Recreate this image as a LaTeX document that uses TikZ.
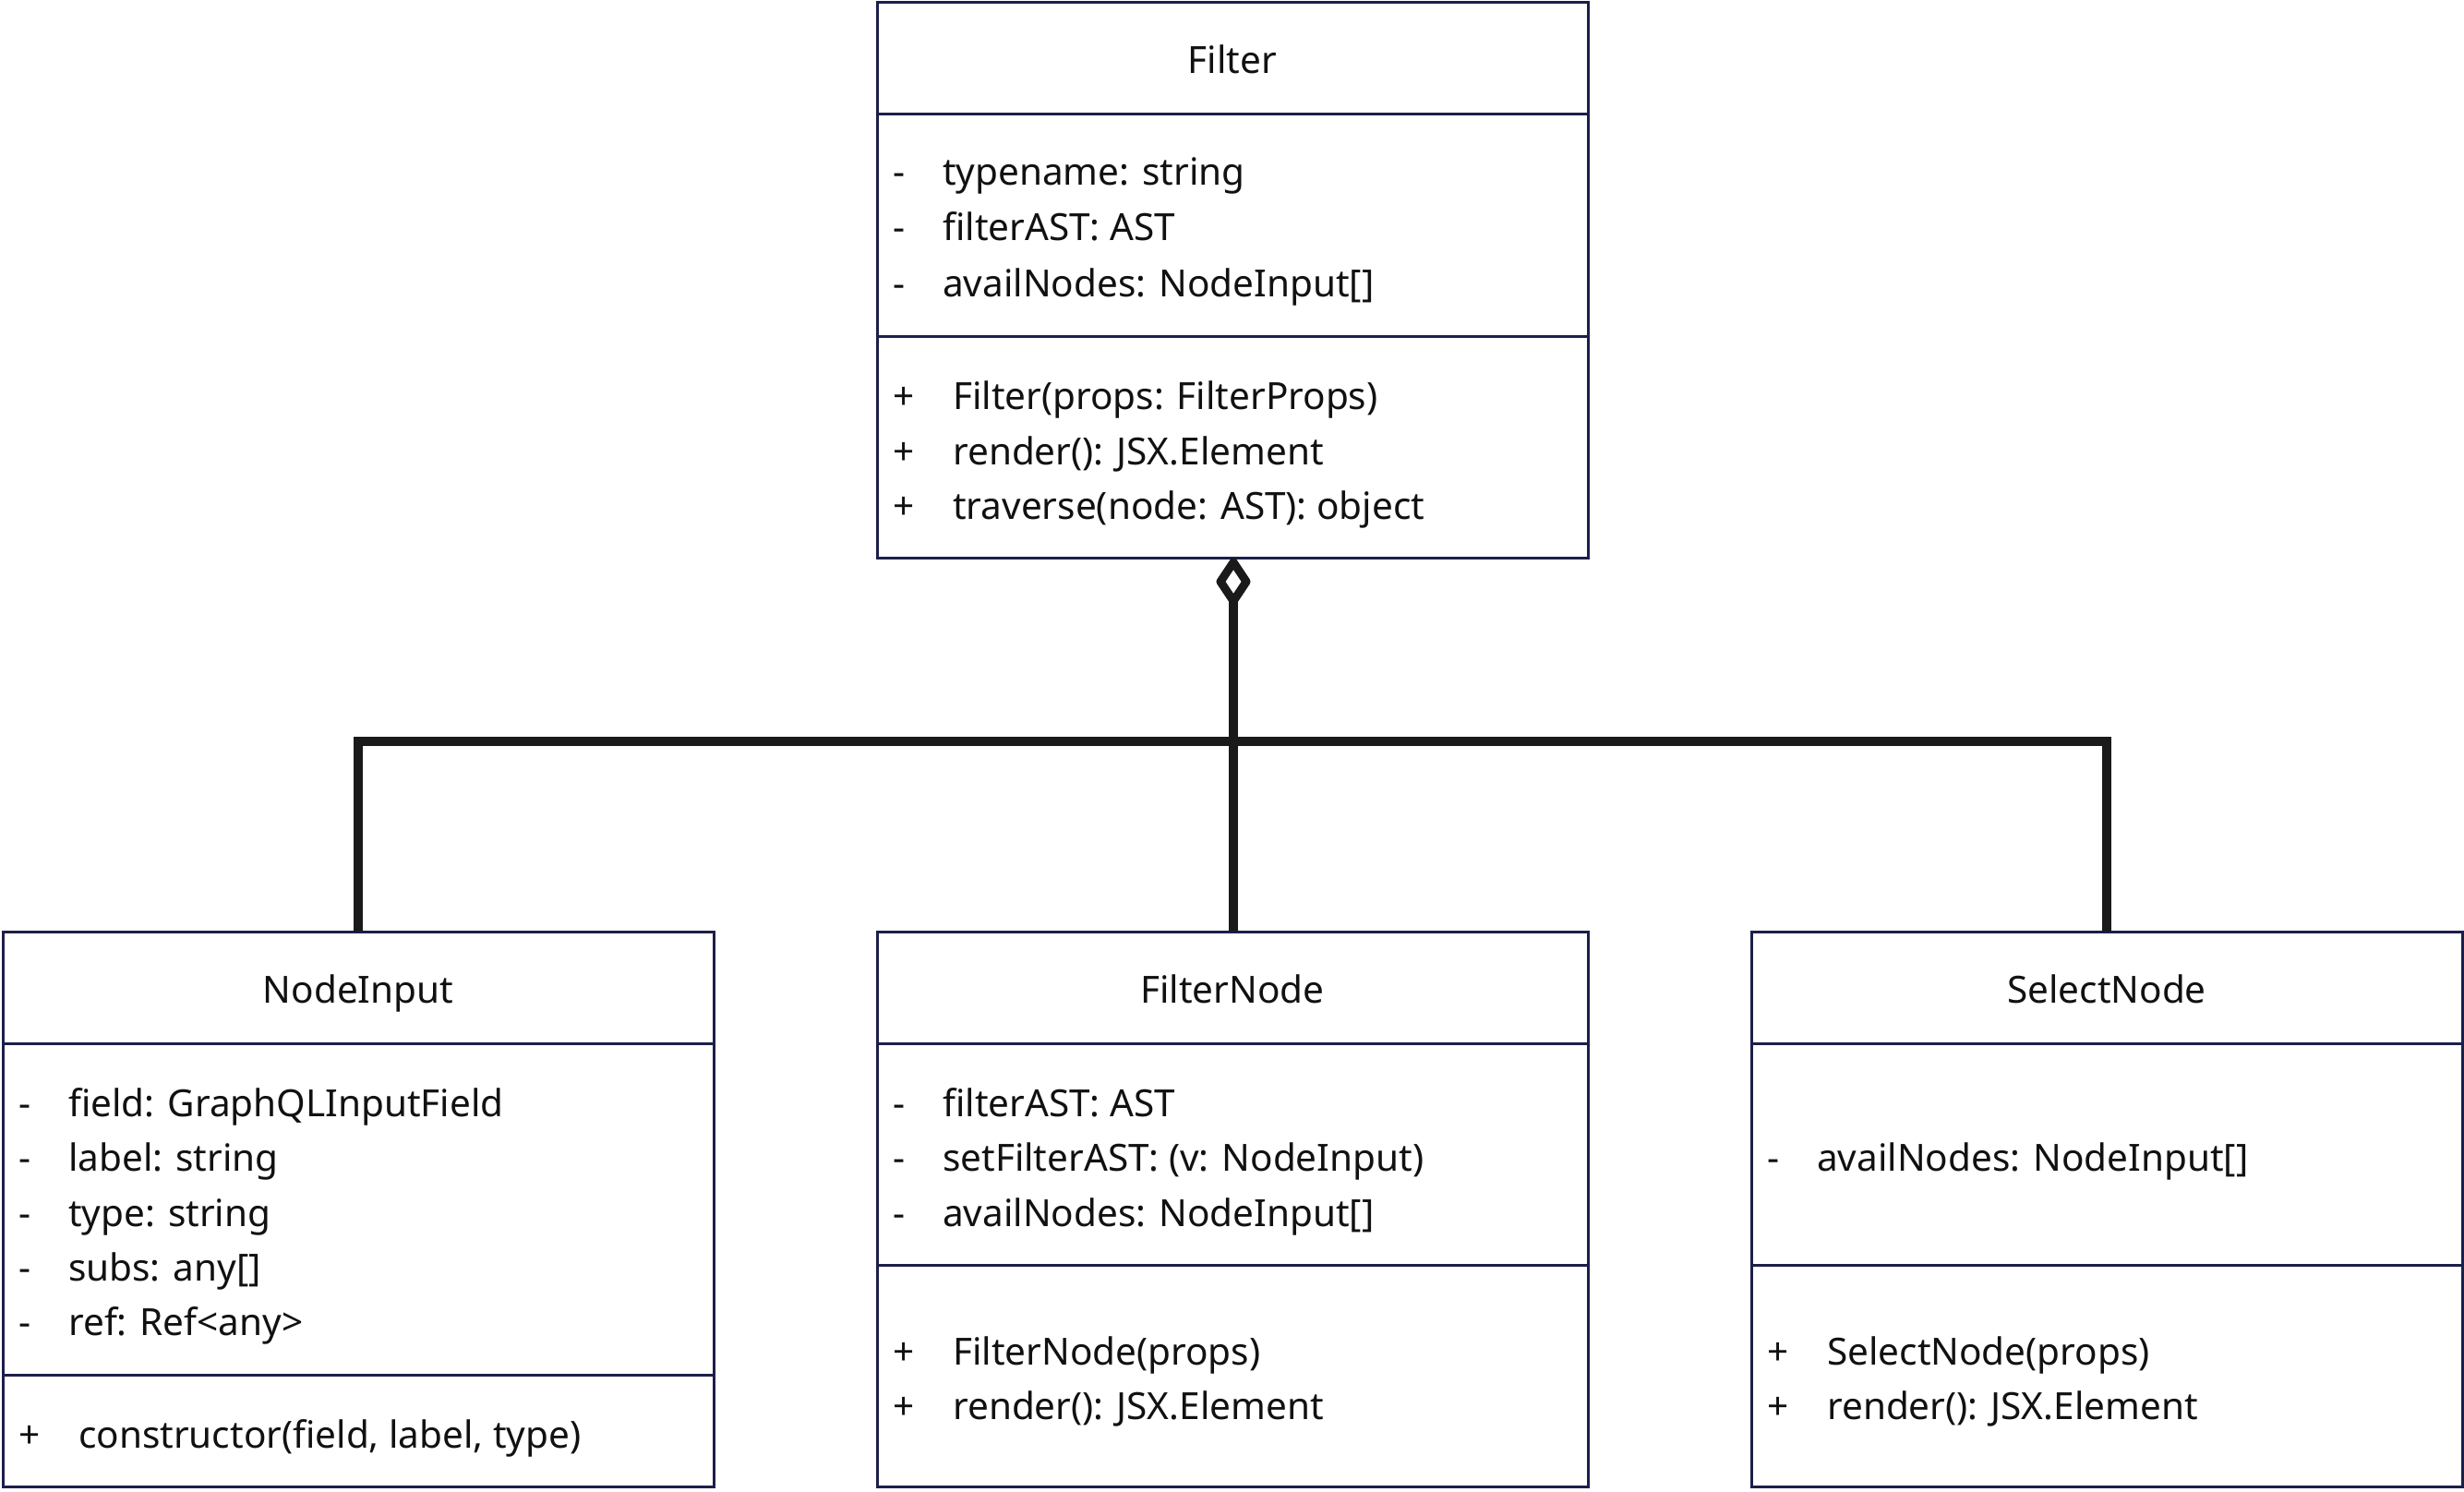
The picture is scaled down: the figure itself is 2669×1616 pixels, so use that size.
\documentclass[tikz,border=0pt]{standalone}
\usepackage{fontspec}
\setmainfont{Noto Sans}
\usetikzlibrary{calc}
\definecolor{boxline}{HTML}{1C1F4A}
\definecolor{connline}{HTML}{1A1A1A}
\definecolor{txtcol}{HTML}{111111}
\begin{document}
\begin{tikzpicture}[x=1pt,y=-1pt,
  classbox/.style={draw=boxline, line width=3pt, minimum width=770pt, minimum height=601pt, anchor=north west, inner sep=0pt, outer sep=0pt},
  divider/.style={draw=boxline, line width=3pt},
  conn/.style={draw=connline, line width=10pt},
  diam/.style={draw=connline, line width=9pt, line join=round},
  lbl/.style={font=\fontsize{40.5}{48}\selectfont, text=txtcol, inner sep=0pt, anchor=base west},
  ttl/.style={font=\fontsize{40.5}{48}\selectfont, text=txtcol, inner sep=0pt, anchor=base}]
\useasboundingbox (0,0) rectangle (2669,1616);
\fill[white] (0,0) rectangle (2669,1616);

% boxes
\node[classbox] (filter) at (950,3) {};
\node[classbox] (nodeinput) at (3,1009) {};
\node[classbox] (filternode) at (950,1009) {};
\node[classbox] (selectnode) at (1897,1009) {};

% dividers
\draw[divider] ($(filter.north west)+(0,121)$) -- ($(filter.north east)+(0,121)$);
\draw[divider] ($(filter.north west)+(0,361)$) -- ($(filter.north east)+(0,361)$);
\draw[divider] ($(nodeinput.north west)+(0,121)$) -- ($(nodeinput.north east)+(0,121)$);
\draw[divider] ($(nodeinput.north west)+(0,480)$) -- ($(nodeinput.north east)+(0,480)$);
\draw[divider] ($(filternode.north west)+(0,121)$) -- ($(filternode.north east)+(0,121)$);
\draw[divider] ($(filternode.north west)+(0,361)$) -- ($(filternode.north east)+(0,361)$);
\draw[divider] ($(selectnode.north west)+(0,121)$) -- ($(selectnode.north east)+(0,121)$);
\draw[divider] ($(selectnode.north west)+(0,361)$) -- ($(selectnode.north east)+(0,361)$);

% Filter
\node[ttl] (f-t) at ($(filter.north)+(0,77)$) {Filter};
\node[lbl] (f-a1m) at ($(filter.north west)+(17,198)$) {-};
\node[lbl] (f-a1) at ($(filter.north west)+(71,198)$) {typename: string};
\node[lbl] (f-a2m) at ($(filter.north west)+(17,258)$) {-};
\node[lbl] (f-a2) at ($(filter.north west)+(71,258)$) {filterAST: AST};
\node[lbl] (f-a3m) at ($(filter.north west)+(17,318)$) {-};
\node[lbl] (f-a3) at ($(filter.north west)+(71,318)$) {availNodes: NodeInput[]};
\node[lbl] (f-m1m) at ($(filter.north west)+(17,440)$) {+};
\node[lbl] (f-m1) at ($(filter.north west)+(82,440)$) {Filter(props: FilterProps)};
\node[lbl] (f-m2m) at ($(filter.north west)+(17,500)$) {+};
\node[lbl] (f-m2) at ($(filter.north west)+(82,500)$) {render(): JSX.Element};
\node[lbl] (f-m3m) at ($(filter.north west)+(17,559)$) {+};
\node[lbl] (f-m3) at ($(filter.north west)+(82,559)$) {traverse(node: AST): object};

% NodeInput
\node[ttl] (n-t) at ($(nodeinput.north)+(0,77)$) {NodeInput};
\node[lbl] (n-a1m) at ($(nodeinput.north west)+(17,200)$) {-};
\node[lbl] (n-a1) at ($(nodeinput.north west)+(71,200)$) {field: GraphQLInputField};
\node[lbl] (n-a2m) at ($(nodeinput.north west)+(17,259)$) {-};
\node[lbl] (n-a2) at ($(nodeinput.north west)+(71,259)$) {label: string};
\node[lbl] (n-a3m) at ($(nodeinput.north west)+(17,319)$) {-};
\node[lbl] (n-a3) at ($(nodeinput.north west)+(71,319)$) {type: string};
\node[lbl] (n-a4m) at ($(nodeinput.north west)+(17,378)$) {-};
\node[lbl] (n-a4) at ($(nodeinput.north west)+(71,378)$) {subs: any[]};
\node[lbl] (n-a5m) at ($(nodeinput.north west)+(17,437)$) {-};
\node[lbl] (n-a5) at ($(nodeinput.north west)+(71,437)$) {ref: Ref<any>};
\node[lbl] (n-m1m) at ($(nodeinput.north west)+(17,559)$) {+};
\node[lbl] (n-m1) at ($(nodeinput.north west)+(82,559)$) {constructor(field, label, type)};

% FilterNode
\node[ttl] (fn-t) at ($(filternode.north)+(0,77)$) {FilterNode};
\node[lbl] (fn-a1m) at ($(filternode.north west)+(17,200)$) {-};
\node[lbl] (fn-a1) at ($(filternode.north west)+(71,200)$) {filterAST: AST};
\node[lbl] (fn-a2m) at ($(filternode.north west)+(17,259)$) {-};
\node[lbl] (fn-a2) at ($(filternode.north west)+(71,259)$) {setFilterAST: (v: NodeInput)};
\node[lbl] (fn-a3m) at ($(filternode.north west)+(17,319)$) {-};
\node[lbl] (fn-a3) at ($(filternode.north west)+(71,319)$) {availNodes: NodeInput[]};
\node[lbl] (fn-m1m) at ($(filternode.north west)+(17,469)$) {+};
\node[lbl] (fn-m1) at ($(filternode.north west)+(82,469)$) {FilterNode(props)};
\node[lbl] (fn-m2m) at ($(filternode.north west)+(17,528)$) {+};
\node[lbl] (fn-m2) at ($(filternode.north west)+(82,528)$) {render(): JSX.Element};

% SelectNode
\node[ttl] (s-t) at ($(selectnode.north)+(0,77)$) {SelectNode};
\node[lbl] (s-a1m) at ($(selectnode.north west)+(17,259)$) {-};
\node[lbl] (s-a1) at ($(selectnode.north west)+(71,259)$) {availNodes: NodeInput[]};
\node[lbl] (s-m1m) at ($(selectnode.north west)+(17,469)$) {+};
\node[lbl] (s-m1) at ($(selectnode.north west)+(82,469)$) {SelectNode(props)};
\node[lbl] (s-m2m) at ($(selectnode.north west)+(17,528)$) {+};
\node[lbl] (s-m2) at ($(selectnode.north west)+(82,528)$) {render(): JSX.Element};

% aggregation connector
\coordinate (dtop) at ($(filter.south)+(1,5)$);
\coordinate (dleft) at ($(filter.south)+(-13,26)$);
\coordinate (dbot) at ($(filter.south)+(1,47)$);
\coordinate (dright) at ($(filter.south)+(15,26)$);
\coordinate (jc) at ($(dbot)+(0,152)$);
\draw[diam] (dtop) -- (dleft) -- (dbot) -- (dright) -- cycle;
\draw[conn] (dbot) -- (jc) -- (jc |- filternode.north);
\draw[conn] (nodeinput.north) |- (jc) -| (selectnode.north);
\end{tikzpicture}
\end{document}
